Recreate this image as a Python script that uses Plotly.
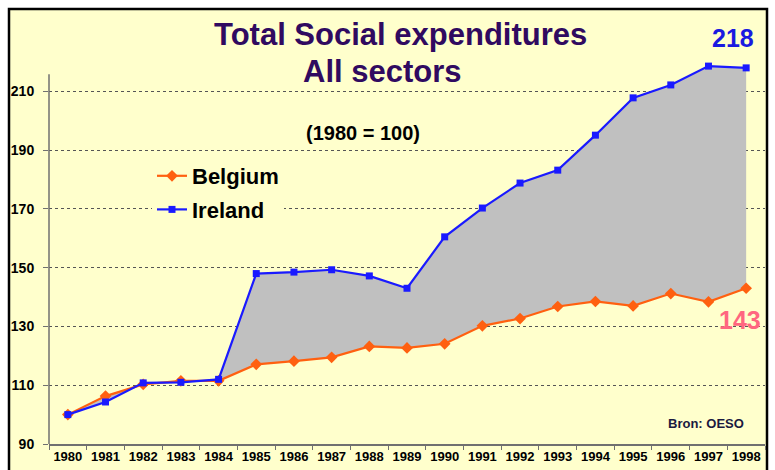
import plotly.graph_objects as go

years = [str(y) for y in range(1980, 1999)]
belgium = [100, 106.3, 110.3, 111.5, 111.5, 117.1, 118.2, 119.5, 123.2, 122.7,
           124.1, 130.2, 132.7, 136.8, 138.5, 137.0, 141.2, 138.4, 143.0]
ireland = [100, 104.3, 110.8, 111.0, 112.0, 148.0, 148.5, 149.3, 147.2, 143.0,
           160.5, 170.3, 178.8, 183.2, 195.1, 207.8, 212.2, 218.6, 218.0]
ytick_vals = [90, 110, 130, 150, 170, 190, 210]

W, H = 775, 470
L, R, T, B = 49, 10, 62, 26
PW, PH = W - L - R, H - T - B

def px(x):
    return (x - L) / PW

def py(y):
    return (H - B - y) / PH

FONT = "Liberation Sans"

fig = go.Figure()
fig.add_trace(go.Scatter(
    x=years, y=belgium, name="Belgium", mode="lines+markers",
    line=dict(color="#FF6010", width=2.2),
    marker=dict(symbol="diamond", size=9, color="#FF6010"),
    legendgroup="b",
))
fig.add_trace(go.Scatter(
    x=years, y=ireland, name="gap", mode="lines",
    line=dict(width=0, color="#C0C0C0"),
    fill="tonexty", fillcolor="#C0C0C0",
    showlegend=False, hoverinfo="skip",
))
fig.add_trace(go.Scatter(
    x=years, y=ireland, name="Ireland", mode="lines+markers",
    line=dict(color="#1A1AFF", width=2.2),
    marker=dict(symbol="square", size=7, color="#1A1AFF"),
    legendgroup="i",
))

shapes = [
    dict(type="rect", xref="paper", yref="paper",
         x0=px(9), x1=px(767), y0=py(485), y1=py(9),
         fillcolor="#FFFFCC", line=dict(color="black", width=2.5), layer="below"),
    dict(type="line", xref="paper", yref="y", x0=0, x1=0, y0=90, y1=215.8,
         line=dict(color="#707070", width=1.5), layer="above"),
]

TITLE_COLOR = "#300A60"
annotations = [
    dict(text="Total Social expenditures", xref="paper", yref="paper",
         x=px(400), y=py(35), showarrow=False, xanchor="center", yanchor="middle",
         font=dict(family=FONT, size=31, color=TITLE_COLOR, weight="bold")),
    dict(text="All sectors", xref="paper", yref="paper",
         x=px(382), y=py(72), showarrow=False, xanchor="center", yanchor="middle",
         font=dict(family=FONT, size=31, color=TITLE_COLOR, weight="bold")),
    dict(text="(1980 = 100)", xref="paper", yref="paper",
         x=px(363), y=py(133), showarrow=False, xanchor="center", yanchor="middle",
         font=dict(family=FONT, size=20, color="black", weight="bold")),
    dict(text="218", xref="paper", yref="paper",
         x=px(733), y=py(38), showarrow=False, xanchor="center", yanchor="middle",
         font=dict(family=FONT, size=25, color="#1A1AE0", weight="bold")),
    dict(text="143", xref="paper", yref="paper",
         x=px(740), y=py(320), showarrow=False, xanchor="center", yanchor="middle",
         font=dict(family=FONT, size=25, color="#FF6680", weight="bold")),
    dict(text="Bron: OESO", xref="paper", yref="paper",
         x=px(706), y=py(423), showarrow=False, xanchor="center", yanchor="middle",
         font=dict(family=FONT, size=13, color="#1A1A40", weight="bold")),
]

fig.update_layout(
    width=W, height=H,
    margin=dict(l=L, r=R, t=T, b=B),
    paper_bgcolor="white",
    plot_bgcolor="rgba(0,0,0,0)",
    shapes=shapes,
    annotations=annotations,
    showlegend=True,
    legend=dict(x=px(152), y=py(155), xanchor="left", yanchor="top",
                bgcolor="#FFFFCC", borderwidth=0, tracegroupgap=2,
                font=dict(family=FONT, size=22, color="black", weight="bold")),
    xaxis=dict(type="category", showgrid=False, showline=True,
               linecolor="#707070", linewidth=1.5, automargin=False, tickangle=0,
               ticks="outside", ticklen=4, tickcolor="#707070", tickson="boundaries",
               tickfont=dict(family=FONT, size=13, color="black", weight="bold"),
               range=[-0.5, 18.5], zeroline=False),
    yaxis=dict(range=[90, 220], tickvals=ytick_vals, showline=False, automargin=False,
               showgrid=True, gridcolor="#555555", griddash="dot", gridwidth=1,
               ticks="outside", ticklen=5, tickcolor="#707070", ticklabelstandoff=6,
               tickfont=dict(family=FONT, size=14, color="black", weight="bold"),
               zeroline=False),
)

fig.write_html("out.html", config={"displayModeBar": False},
               post_script="document.body.style.margin='0';document.body.style.overflow='hidden';")
